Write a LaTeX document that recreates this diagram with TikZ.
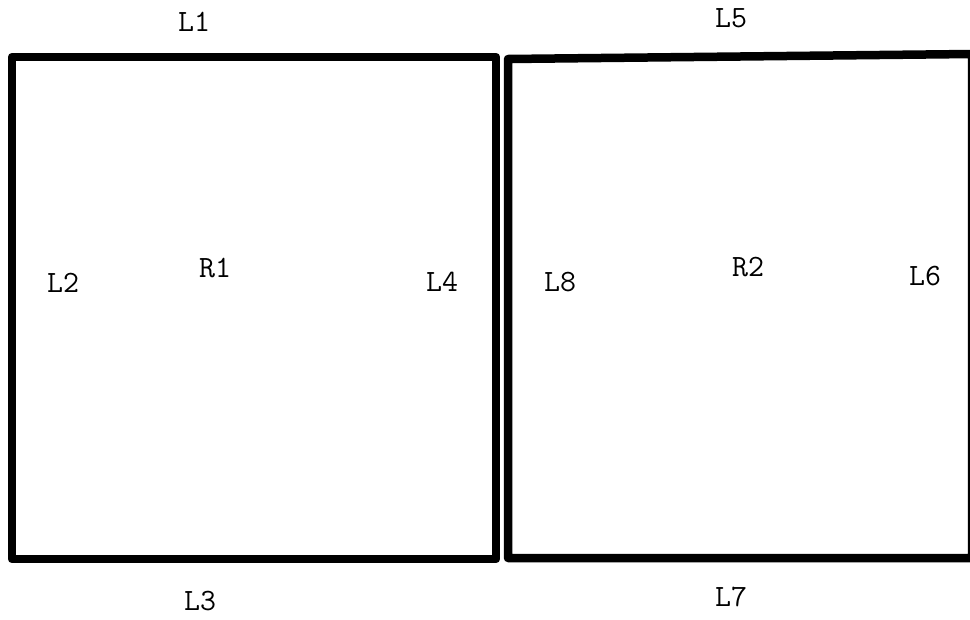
\documentclass[tikz,border=0pt]{standalone}
\begin{document}
\begin{tikzpicture}[x=1pt,y=-1pt,
  wall/.style={line width=8.5pt,line join=round,line cap=round},
  lbl/.style={font=\ttfamily\fontsize{31}{31}\selectfont,inner sep=0pt}]
\useasboundingbox (0,0) rectangle (970,619);
\fill[white] (0,0) rectangle (970,619);
\coordinate (a1) at (12,57);
\coordinate (a2) at (496,57);
\coordinate (a3) at (496,559);
\coordinate (a4) at (12,559);
\coordinate (b1) at (508,59);
\coordinate (b2) at (972,54);
\coordinate (b3) at (972,558);
\coordinate (b4) at (508,558);
\draw[wall] (a1) -- (a2) -- (a3) -- (a4) -- cycle;
\draw[wall] (b1) -- (b2) -- (b3) -- (b4) -- cycle;
\node[lbl] (L1) at (194,22) {L1};
\node[lbl] (L2) at (63,283) {L2};
\node[lbl] (R1) at (215,268) {R1};
\node[lbl] (L4) at (442,282) {L4};
\node[lbl] (L3) at (200,601) {L3};
\node[lbl] (L5) at (731,18) {L5};
\node[lbl] (L8) at (560,282) {L8};
\node[lbl] (R2) at (748,267) {R2};
\node[lbl] (L6) at (925,276) {L6};
\node[lbl] (L7) at (731,597) {L7};
\end{tikzpicture}
\end{document}
